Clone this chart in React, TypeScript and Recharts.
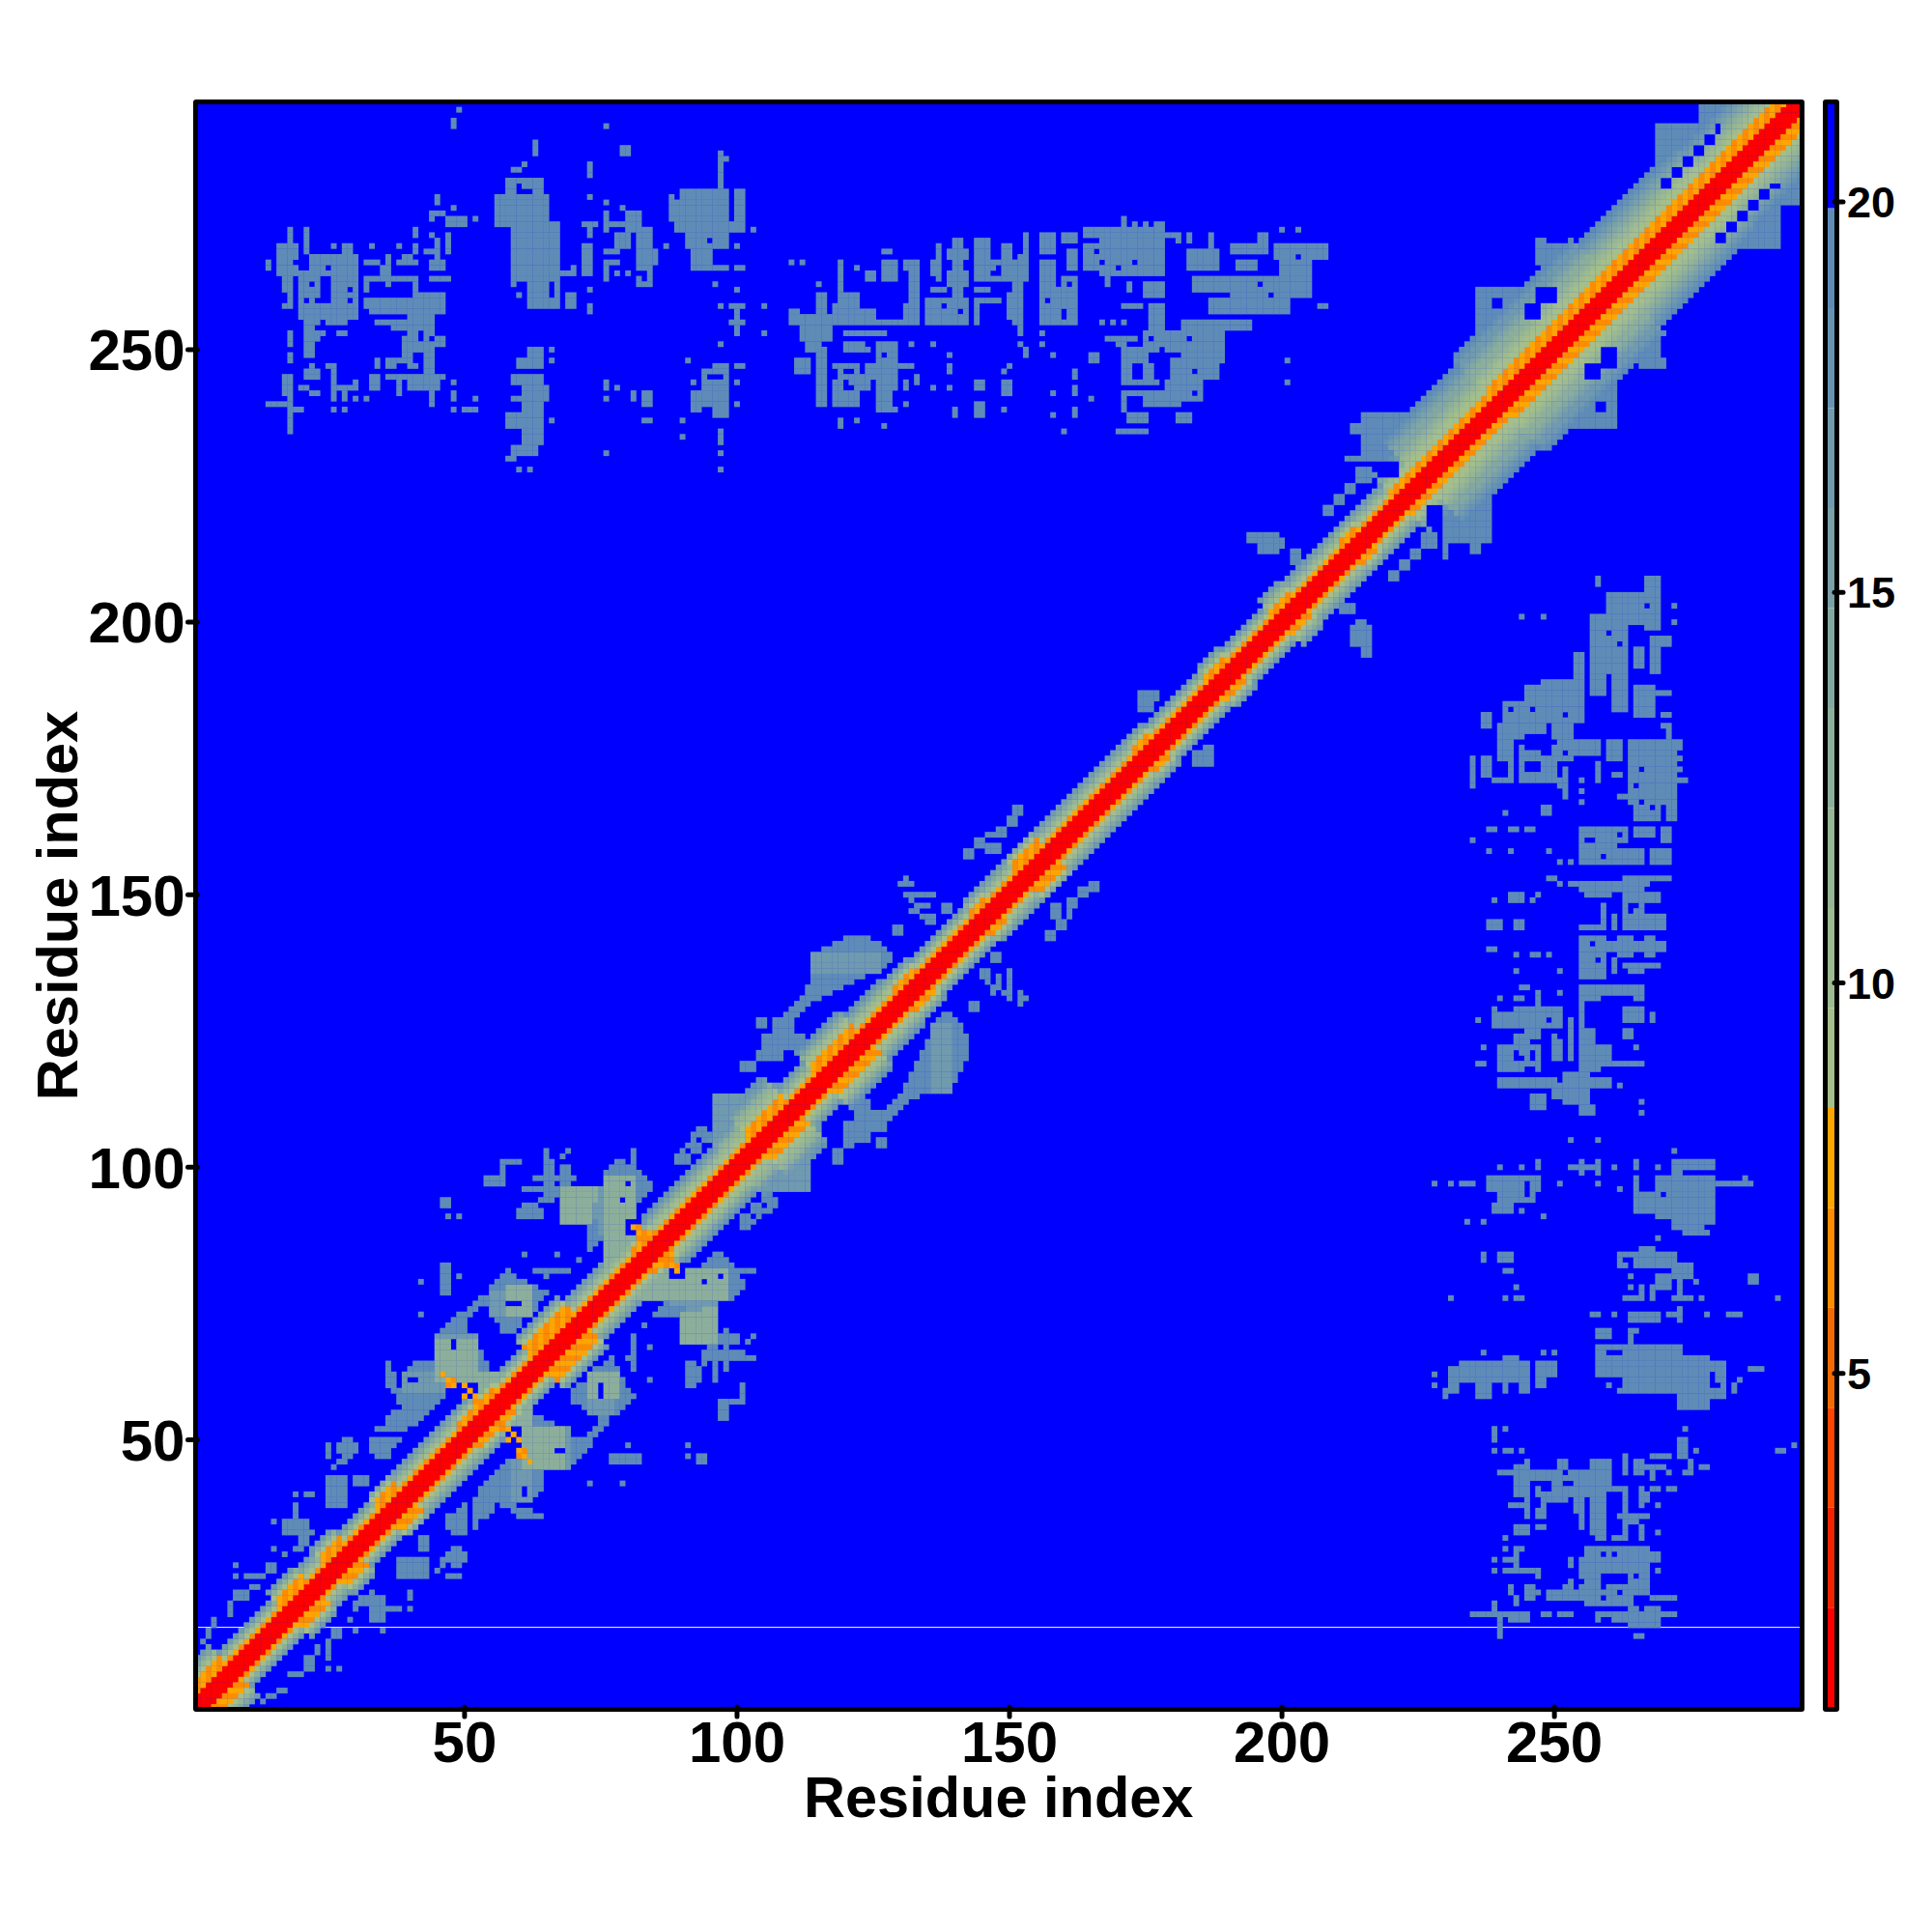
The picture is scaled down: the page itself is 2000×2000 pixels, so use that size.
import { ScatterChart, Scatter, XAxis, YAxis, CartesianGrid, ReferenceLine, BarChart, Bar } from 'recharts';

const FONT = '"Liberation Sans", Arial, sans-serif';
const CELL = 5.95;

const residueTicks = [50, 100, 150, 200, 250];
const scaleTicks = [5, 10, 15, 20];

// colour steps of the scale, low distance to high distance
const palette = ['#FF0000', '#F22400', '#FF4500', '#F56A00', '#FF8C00', '#FFA500', '#A5BF8B', '#9DBA90', '#95B595', '#8CAF9B', '#83A8A2', '#7AA1A8', '#709AAE', '#6693B3', '#5F8CB7', '#0000FF'];
const scaleSteps = [2, 1.28, 1.28, 1.28, 1.28, 1.28, 1.28, 1.28, 1.28, 1.28, 1.28, 1.28, 1.28, 1.28, 1.28, 1.33];

// along the diagonal: from, to, red half width, orange half width, outer half width
const bandProfile = [
  [1, 8, 2, 5, 9], [8, 18, 2, 3, 6], [18, 23, 2, 5, 8], [23, 26, 2, 3, 7], [26, 30, 2, 5, 8], [30, 36, 2, 3, 6],
  [36, 40, 2, 5, 7], [40, 51, 2, 3, 7], [51, 58, 2, 4, 7], [58, 64, 2, 3, 6], [64, 72, 2, 6, 9], [72, 83, 2, 3, 7],
  [83, 87, 2, 4, 7], [87, 100, 2, 3, 8], [100, 104, 2, 3, 10], [104, 111, 2, 5, 12], [111, 116, 2, 3, 7], [116, 124, 2, 5, 10], [124, 131, 2, 3, 8],
  [131, 135, 2, 4, 7], [135, 145, 2, 3, 6], [145, 148, 2, 4, 7], [148, 153, 2, 3, 7], [153, 158, 2, 5, 7], [158, 175, 2, 3, 7], [175, 178, 2, 4, 7],
  [178, 188, 2, 3, 6], [188, 192, 2, 4, 7], [192, 200, 2, 3, 6], [200, 204, 2, 4, 8], [204, 213, 2, 3, 7], [213, 216, 2, 4, 7],
  [216, 222, 2, 3, 7], [222, 226, 2, 4, 10], [226, 240, 2, 4, 15], [240, 262, 2, 5, 17], [262, 280, 2, 5, 15], [280, 296, 2, 5, 13],
];

// blocks away from the diagonal, as xFrom, xTo, yFrom, yTo (the map is symmetric)
const farBlocksLeft = [
  [18, 18, 270, 272], [21, 21, 268, 272], [16, 19, 264, 269], [14, 14, 265, 266], [17, 18, 261, 263], [18, 18, 258, 264], [17, 18, 258, 258],
  [20, 23, 260, 263], [20, 30, 256, 258], [26, 30, 258, 267], [28, 29, 267, 269], [22, 25, 265, 267], [19, 25, 264, 264], [20, 22, 259, 259],
  [21, 23, 255, 256], [21, 22, 249, 255], [21, 23, 252, 253], [18, 18, 251, 253], [18, 18, 248, 249], [26, 26, 269, 269], [33, 33, 269, 269], [38, 38, 269, 269],
  [32, 34, 266, 266], [36, 36, 262, 267], [35, 35, 263, 265], [32, 41, 263, 263], [32, 32, 261, 262], [38, 41, 266, 266], [41, 41, 268, 269],
  [41, 41, 271, 272], [39, 40, 267, 267], [44, 46, 265, 266], [43, 45, 268, 268], [44, 44, 271, 271], [47, 47, 268, 271], [45, 45, 267, 270],
  [44, 47, 263, 263], [41, 41, 258, 263], [42, 46, 260, 260], [32, 46, 258, 259], [33, 39, 257, 257], [40, 46, 257, 258], [40, 44, 253, 256],
  [34, 39, 255, 255], [37, 39, 254, 254], [39, 46, 251, 252], [39, 44, 249, 250], [36, 41, 247, 248], [43, 44, 244, 249], [36, 46, 245, 245],
  [40, 45, 243, 244], [38, 38, 242, 244], [44, 44, 240, 243], [34, 34, 247, 248], [33, 34, 243, 245], [21, 23, 245, 246], [22, 22, 247, 247],
  [25, 26, 247, 247], [26, 26, 241, 246], [27, 30, 243, 243], [30, 30, 244, 244], [28, 28, 241, 242], [20, 21, 243, 243], [22, 23, 242, 242],
  [17, 18, 242, 245], [18, 18, 235, 241], [14, 17, 240, 240], [18, 20, 239, 239], [25, 26, 255, 255], [27, 28, 255, 255], [24, 24, 253, 253], [27, 28, 253, 253],
  [26, 26, 239, 239], [28, 28, 239, 239], [30, 30, 241, 241], [32, 32, 241, 241], [48, 48, 244, 244], [48, 48, 241, 242], [50, 52, 239, 239], [48, 48, 239, 239], [52, 52, 241, 241],
  [45, 45, 277, 278], [44, 46, 275, 275], [44, 44, 274, 274], [47, 50, 273, 274], [48, 48, 276, 276], [52, 52, 274, 274], [48, 48, 291, 292], [49, 49, 294, 294],
];

const farBlocksCentre = [
  [58, 64, 278, 281], [56, 65, 273, 278], [61, 65, 272, 273], [59, 67, 263, 272], [62, 65, 259, 263], [62, 67, 258, 259], [67, 67, 259, 263], [68, 70, 264, 264],
  [70, 70, 265, 265], [66, 67, 272, 273], [72, 73, 264, 269], [72, 74, 273, 273], [73, 73, 271, 272], [73, 73, 282, 284], [73, 73, 278, 278], [73, 73, 257, 258], [73, 73, 261, 261],
  [63, 63, 286, 288], [59, 60, 283, 283], [61, 61, 284, 284], [79, 80, 286, 287], [76, 76, 291, 291], [59, 59, 262, 262], [60, 60, 260, 260], [69, 70, 258, 260],
  [76, 76, 272, 275], [80, 82, 272, 275], [76, 82, 273, 273], [78, 80, 269, 271], [82, 84, 262, 272], [85, 85, 266, 268], [76, 78, 268, 268], [76, 78, 266, 266], [76, 76, 263, 265], [78, 78, 264, 264], [80, 80, 264, 264], [76, 76, 277, 277], [79, 79, 276, 276],
  [90, 98, 274, 279], [88, 90, 274, 277], [89, 101, 272, 273], [91, 98, 269, 272], [92, 95, 265, 268], [96, 98, 265, 265], [97, 97, 279, 286], [98, 98, 285, 285], [100, 101, 274, 279], [88, 88, 278, 278], [103, 103, 272, 272],
  [87, 87, 269, 269], [100, 100, 269, 269], [100, 101, 265, 265], [110, 110, 266, 266],
  [62, 64, 248, 250], [60, 64, 247, 248], [59, 64, 244, 245], [61, 64, 233, 244], [59, 60, 241, 241], [58, 60, 236, 238], [65, 65, 241, 243], [62, 63, 232, 232], [59, 63, 231, 232], [58, 59, 230, 230], [60, 60, 228, 228], [62, 62, 228, 228], [66, 66, 250, 250], [66, 66, 248, 248], [66, 66, 237, 237],
  [76, 76, 243, 244], [78, 78, 243, 243], [76, 76, 241, 241], [81, 81, 241, 242], [83, 84, 240, 242], [83, 84, 237, 237], [76, 76, 231, 231],
  [94, 98, 240, 246], [96, 98, 247, 247], [96, 98, 238, 239], [92, 93, 239, 242], [97, 97, 233, 235], [100, 100, 253, 258], [99, 101, 258, 258], [99, 101, 255, 255], [97, 97, 251, 251], [97, 97, 231, 231], [97, 97, 228, 228],
  [91, 91, 248, 248], [100, 101, 247, 247], [90, 90, 237, 237], [90, 90, 234, 234], [92, 92, 244, 244], [100, 100, 244, 244], [100, 100, 240, 240], [97, 97, 258, 258], [96, 96, 262, 262], [100, 100, 261, 261], [105, 105, 258, 258], [105, 105, 253, 253],
];

const farBlocksRight = [
  [112, 117, 252, 256], [115, 116, 256, 260], [110, 111, 255, 257], [118, 122, 255, 258], [119, 119, 258, 266], [123, 133, 255, 255], [120, 122, 259, 260], [131, 133, 256, 258], [132, 133, 259, 266], [131, 133, 265, 266],
  [127, 129, 263, 266], [127, 128, 268, 268], [124, 125, 263, 264], [113, 115, 250, 251], [115, 116, 240, 250], [111, 113, 246, 248], [118, 122, 240, 247], [123, 124, 243, 245], [126, 129, 239, 251], [124, 126, 245, 247],
  [120, 127, 253, 253], [120, 124, 250, 251], [130, 132, 247, 247], [133, 133, 244, 245], [131, 131, 243, 244], [132, 132, 251, 251], [136, 136, 251, 251], [139, 139, 249, 249], [139, 139, 246, 247], [136, 136, 243, 243],
  [139, 139, 243, 243], [119, 119, 236, 237], [122, 122, 237, 237], [127, 127, 236, 236], [131, 131, 240, 240], [115, 115, 262, 262], [112, 112, 266, 266], [122, 122, 265, 265], [123, 125, 256, 257],
  [135, 142, 255, 258], [135, 142, 259, 259], [136, 138, 261, 261], [140, 141, 260, 261], [137, 137, 263, 269], [136, 136, 264, 266], [139, 142, 262, 264], [140, 141, 265, 270], [139, 142, 267, 268], [144, 153, 263, 266], [144, 146, 266, 270],
  [149, 150, 266, 269], [152, 153, 266, 267], [153, 153, 268, 271], [156, 158, 268, 271], [160, 162, 270, 271], [156, 158, 255, 266], [159, 162, 255, 261], [160, 162, 262, 263], [161, 162, 265, 268], [151, 152, 255, 262], [150, 150, 256, 260], [144, 146, 261, 261],
  [144, 146, 259, 259], [144, 144, 255, 258], [147, 148, 259, 259], [152, 152, 253, 254], [152, 152, 251, 251], [153, 153, 250, 250], [156, 156, 253, 253], [156, 156, 251, 251], [153, 153, 249, 249], [158, 158, 249, 249],
  [167, 178, 264, 272], [164, 167, 265, 269], [171, 171, 273, 274], [173, 173, 273, 273], [175, 175, 273, 273], [177, 178, 272, 273], [178, 181, 271, 271], [181, 181, 270, 270], [164, 166, 271, 272], [168, 168, 262, 264], [183, 183, 270, 271], [187, 187, 271, 271],
  [191, 205, 260, 263], [187, 201, 257, 259], [200, 205, 260, 267], [199, 208, 267, 269], [191, 197, 268, 269], [192, 195, 265, 266], [183, 188, 265, 268], [187, 187, 269, 271], [184, 190, 261, 263], [200, 200, 272, 272], [203, 203, 272, 272], [196, 197, 270, 271], [207, 208, 258, 258],
  [175, 189, 250, 253], [182, 189, 248, 250], [180, 188, 245, 248], [179, 185, 241, 244], [171, 175, 248, 250], [168, 173, 252, 252], [170, 171, 251, 251], [176, 178, 254, 258], [182, 187, 254, 255], [188, 194, 254, 255], [171, 177, 244, 244], [171, 180, 242, 242], [171, 171, 239, 241],
  [172, 175, 237, 238], [170, 175, 235, 235], [181, 183, 237, 238], [175, 178, 240, 241], [179, 181, 240, 240], [171, 172, 245, 248], [175, 176, 245, 247], [165, 166, 248, 249], [160, 160, 235, 235], [201, 201, 248, 248], [201, 201, 244, 244], [175, 178, 260, 262], [172, 172, 261, 262],
  [171, 174, 258, 258], [167, 167, 255, 255], [169, 169, 255, 255], [171, 171, 255, 255], [162, 162, 245, 246], [162, 162, 242, 243], [162, 162, 238, 239], [158, 158, 242, 242], [158, 158, 238, 238], [165, 165, 241, 241], [149, 150, 242, 244], [144, 145, 243, 244], [144, 145, 238, 240], [140, 140, 238, 239], [149, 149, 239, 239], [150, 150, 247, 247], [149, 149, 246, 246],
];

// patches close to the diagonal, outermost shade
const nearOuter = [
  // residues 1 to 60
  [14, 15, 26, 27], [10, 13, 25, 25], [8, 8, 27, 27], [8, 8, 25, 25], [11, 12, 23, 23], [8, 10, 21, 22], [7, 7, 18, 20], [4, 4, 16, 17], [3, 3, 14, 15], [2, 2, 13, 13],
  [19, 19, 40, 40], [21, 22, 40, 40], [19, 19, 36, 38], [15, 15, 35, 35], [17, 19, 33, 35], [18, 22, 33, 33], [20, 21, 31, 35], [19, 20, 30, 30], [15, 15, 30, 30], [17, 17, 29, 29],
  [25, 28, 38, 43], [30, 32, 42, 43], [28, 29, 50, 50], [27, 30, 48, 49], [28, 29, 47, 47], [27, 28, 46, 46], [25, 25, 47, 49], [26, 26, 45, 45], [33, 38, 50, 50], [33, 37, 49, 49], [33, 36, 48, 48], [34, 36, 47, 47],
  [36, 36, 60, 64], [37, 37, 59, 62], [38, 39, 57, 59], [34, 39, 52, 52], [36, 41, 53, 53], [36, 42, 54, 54], [37, 43, 55, 55], [39, 44, 56, 56], [40, 45, 57, 57], [40, 46, 58, 58], [39, 46, 59, 59], [39, 47, 60, 60], [39, 46, 61, 62], [40, 45, 63, 63], [41, 44, 64, 64],
  [45, 54, 64, 64], [46, 54, 63, 63], [45, 53, 65, 66], [45, 52, 67, 68], [46, 52, 69, 69], [46, 50, 70, 70], [47, 50, 71, 71], [48, 50, 72, 72], [49, 51, 73, 73], [51, 52, 74, 74], [52, 53, 75, 75], [42, 42, 79, 79], [42, 42, 73, 73],
  // residues 55 to 105
  [58, 58, 81, 81], [57, 59, 80, 80], [56, 61, 79, 79], [55, 63, 78, 78], [55, 65, 77, 77], [53, 64, 76, 76], [54, 63, 75, 75], [55, 63, 74, 74], [55, 62, 73, 73], [56, 60, 72, 72], [57, 60, 71, 71], [57, 59, 70, 70],
  [63, 68, 81, 81], [65, 65, 80, 80], [69, 69, 81, 81], [46, 47, 77, 82], [49, 49, 80, 80], [61, 61, 84, 84], [67, 67, 84, 84], [71, 71, 83, 83], [46, 47, 93, 94], [47, 47, 91, 91], [49, 49, 91, 91],
  [57, 60, 101, 101], [57, 57, 99, 100], [54, 57, 97, 98], [63, 70, 98, 98], [65, 66, 94, 101], [61, 70, 96, 96], [68, 68, 95, 99], [64, 64, 94, 94], [60, 64, 91, 92], [61, 63, 93, 93],
  [96, 97, 84, 84], [95, 98, 83, 83], [94, 99, 82, 82], [92, 103, 81, 81], [92, 100, 80, 80], [88, 101, 78, 79], [88, 100, 77, 77], [88, 99, 76, 76], [87, 96, 75, 75], [86, 95, 74, 74], [85, 96, 73, 73], [90, 95, 72, 72], [91, 94, 71, 71], [91, 93, 70, 70], [91, 91, 68, 69],
  [97, 100, 69, 69], [98, 98, 63, 70], [100, 100, 68, 69], [97, 100, 65, 65], [95, 96, 65, 67], [102, 103, 65, 65], [102, 102, 68, 68], [103, 103, 69, 69], [94, 94, 64, 64], [96, 96, 61, 64], [96, 96, 68, 70], [84, 84, 67, 67], [83, 83, 71, 71], [84, 84, 61, 61], [101, 101, 60, 60],
  [101, 102, 89, 89], [103, 103, 90, 90], [104, 104, 91, 91], [105, 106, 92, 92], [106, 107, 93, 94],
  // residues 90 to 165
  [90, 91, 101, 102], [92, 93, 103, 104], [94, 95, 105, 106], [96, 97, 107, 108], [98, 99, 109, 110],
  [101, 103, 118, 119], [104, 108, 120, 121], [105, 112, 122, 124], [107, 110, 125, 127], [104, 105, 126, 127],
  [109, 111, 128, 128], [110, 112, 129, 129], [111, 113, 130, 130], [112, 115, 131, 131], [113, 117, 132, 132], [113, 119, 133, 133], [114, 121, 134, 134], [114, 123, 135, 135], [114, 125, 136, 136], [114, 127, 137, 137], [115, 128, 138, 139], [116, 127, 140, 140], [118, 126, 141, 141], [120, 124, 142, 142],
  [131, 131, 153, 153], [130, 132, 152, 152], [131, 136, 150, 150], [132, 132, 149, 149], [133, 135, 148, 148], [132, 133, 147, 147], [134, 136, 146, 146], [135, 136, 145, 145], [129, 130, 143, 144], [138, 139, 147, 148],
  [142, 143, 157, 158], [144, 145, 159, 160], [146, 148, 158, 159], [148, 149, 161, 162], [150, 151, 163, 164], [151, 152, 165, 166], [146, 147, 161, 161],
  // residues 170 to 285
  [174, 176, 184, 187], [176, 177, 186, 187], [194, 197, 215, 216], [196, 199, 213, 216], [198, 200, 214, 215], [211, 213, 202, 203],
  [215, 222, 230, 238], [212, 215, 230, 230], [213, 215, 235, 236], [208, 209, 220, 221], [210, 211, 222, 223], [212, 213, 224, 225], [214, 216, 226, 228],
  [236, 250, 249, 261], [247, 248, 266, 270], [248, 256, 261, 269], [269, 278, 280, 291], [277, 284, 292, 295],
];
// the same patches where they are lighter, towards the middle
const nearMiddle = [[88, 96, 75, 75], [91, 94, 72, 74], [39, 46, 59, 62], [45, 52, 66, 69], [55, 60, 73, 77], [114, 126, 136, 139], [104, 108, 112, 115], [96, 104, 105, 113]];
const nearLight = [[88, 98, 76, 81], [58, 62, 73, 78], [45, 52, 61, 68], [53, 59, 58, 62], [82, 87, 76, 82], [94, 96, 73, 74], [68, 73, 90, 96]];

// darker arms of the two crossings on the diagonal: x, y
const armCellsOrange = [
  [46, 62], [47, 61], [48, 61], [47, 60], [48, 60], [50, 60], [50, 58], [51, 59], [52, 58], [52, 57], [53, 57], [53, 56], [54, 56],
  [81, 89], [82, 89], [82, 88], [83, 88], [82, 87], [83, 87], [84, 87], [83, 86], [84, 86],
];

// gaps inside the blocks: xFrom, xTo, yFrom, yTo
const gaps = [
  [29, 29, 261, 261], [29, 29, 259, 259], [25, 25, 265, 265], [21, 21, 259, 259], [19, 19, 266, 266], [22, 22, 262, 262], [42, 42, 252, 253], [44, 44, 252, 252], [38, 39, 246, 247], [41, 42, 248, 249], [60, 60, 279, 280], [61, 62, 279, 279],
  [95, 97, 245, 245], [95, 95, 270, 270], [92, 92, 263, 263], [97, 97, 268, 268], [173, 173, 266, 266], [167, 167, 266, 266], [170, 170, 265, 265], [166, 166, 268, 268], [82, 83, 264, 264], [83, 83, 263, 263], [78, 79, 272, 272],
  [148, 148, 264, 265], [147, 147, 264, 264], [120, 120, 243, 244], [121, 121, 243, 243], [118, 118, 245, 246], [120, 121, 246, 246], [124, 124, 251, 251], [127, 127, 249, 249], [129, 129, 240, 242], [157, 157, 259, 259], [160, 160, 256, 257], [161, 161, 262, 262],
  [138, 138, 258, 258], [141, 141, 257, 257], [196, 196, 262, 262], [198, 198, 260, 260], [203, 203, 267, 267], [184, 184, 246, 246], [184, 184, 242, 242], [176, 176, 252, 252], [178, 178, 249, 250], [173, 174, 247, 247], [183, 183, 252, 252],
  [270, 271, 280, 281], [272, 273, 282, 283], [274, 275, 284, 285], [276, 277, 286, 287], [278, 279, 288, 289], [280, 280, 290, 291], [245, 247, 256, 258], [239, 240, 258, 259], [247, 250, 259, 261], [218, 221, 227, 229],
  [49, 49, 60, 60], [50, 50, 59, 59], [51, 51, 60, 60], [51, 51, 58, 58], [52, 52, 59, 59], [49, 49, 58, 58], [88, 90, 80, 81], [94, 94, 79, 79], [97, 97, 80, 80], [58, 60, 75, 75], [48, 48, 67, 68], [40, 41, 61, 61],
];

const buildCells = () => {
  const grid = new Map<string, number>();
  const put = (x: number, y: number, level: number) => {
    if (x < 1 || y < 1 || x > 295 || y > 295) return;
    for (const key of [`${x},${y}`, `${y},${x}`]) {
      const old = grid.get(key);
      if (old === undefined || level < old) grid.set(key, level);
    }
  };
  const fill = (blocks: number[][], level: number) => {
    blocks.forEach(([x1, x2, y1, y2]) => {
      for (let x = x1; x <= x2; x++) for (let y = y1; y <= y2; y++) put(x, y, level);
    });
  };
  bandProfile.forEach(([from, to, red, orange, outer]) => {
    for (let x = 1; x <= 295; x++) {
      for (let d = 0; d <= outer; d++) {
        const mid = x + d / 2;
        if (mid < from || mid >= to) continue;
        let level = 6 + Math.floor(((d - orange - 1) / (outer - orange)) * 9);
        if (d <= red) level = 0;
        else if (d <= orange) level = x % 2 ? 4 : 5;
        put(x, x + d, level);
      }
    }
  });
  fill(farBlocksLeft, 14);
  fill(farBlocksCentre, 14);
  fill(farBlocksRight, 14);
  fill(nearOuter, 14);
  fill(nearMiddle, 12);
  fill(nearLight, 9);
  gaps.forEach(([x1, x2, y1, y2]) => {
    for (let x = x1; x <= x2; x++) {
      for (let y = y1; y <= y2; y++) {
        grid.delete(`${x},${y}`);
        grid.delete(`${y},${x}`);
      }
    }
  });
  armCellsOrange.forEach(([x, y]) => put(x, y, (x + y) % 2 ? 4 : 5));

  const byLevel: { x: number; y: number }[][] = palette.map(() => []);
  grid.forEach((level, key) => {
    const [x, y] = key.split(',').map(Number);
    byLevel[level].push({ x, y });
  });
  return byLevel;
};

const cellsByLevel = buildCells();

const scaleRow: Record<string, number | string> = { name: 'scale' };
scaleSteps.forEach((step, i) => {
  scaleRow[`s${i}`] = step;
});

const HeatCell = (props: any) => (
  <rect x={props.cx - CELL / 2} y={props.cy - CELL / 2} width={CELL} height={CELL} fill={props.fill} />
);

const tickLine = { stroke: '#000', strokeWidth: 5, strokeLinecap: 'round' as const };
const bigTick = { fontSize: 60, fontWeight: 700, fontFamily: FONT, fill: '#000' };
const noLabel = () => '';
const titleStyle = { fontSize: 59.5, fontWeight: 700, fontFamily: FONT, fill: '#000' };

export default function App() {
  return (
    <div style={{ position: 'absolute', left: 0, top: 0, width: 2000, height: 2000, background: '#fff' }}>
      <div style={{ position: 'absolute', left: 0, top: 0 }}>
        <ScatterChart width={1880} height={2000} margin={{ top: 48, right: 0, bottom: 0, left: 0 }}>
          <CartesianGrid horizontal={false} vertical={false} fill="#0000FF" xAxisId="bottom" yAxisId="left" />
          <XAxis xAxisId="bottom" type="number" dataKey="x" domain={[1, 295]} ticks={residueTicks} height={233} tick={bigTick} tickSize={10} tickMargin={4} tickLine={tickLine} axisLine={false} interval={0}
            label={{ value: 'Residue index', position: 'insideBottom', offset: 119, style: titleStyle }} />
          <XAxis xAxisId="top" orientation="top" type="number" domain={[1, 295]} ticks={residueTicks} height={60} tickSize={10} tickFormatter={noLabel} tickLine={tickLine} axisLine={false} interval={0} />
          <YAxis yAxisId="left" type="number" dataKey="y" domain={[1, 295]} ticks={residueTicks} width={204.5} tick={bigTick} tickSize={10} tickMargin={3} tickLine={tickLine} axisLine={false} interval={0}
            label={{ value: 'Residue index', angle: -90, position: 'insideLeft', offset: 59, style: { ...titleStyle, textAnchor: 'middle' } }} />
          <YAxis yAxisId="right" orientation="right" type="number" domain={[1, 295]} ticks={residueTicks} width={17} tickSize={10} tickFormatter={noLabel} tickLine={tickLine} axisLine={false} interval={0} />
          {cellsByLevel.map((cells, level) => (
            cells.length > 0 && <Scatter key={level} xAxisId="bottom" yAxisId="left" data={cells} fill={palette[level]} shape={HeatCell} isAnimationActive={false} />
          ))}
          <ReferenceLine xAxisId="bottom" yAxisId="left" y={15.6} stroke="#FFFFFF" strokeWidth={1} />
        </ScatterChart>
      </div>
      <div style={{ position: 'absolute', left: 199.5, top: 103, width: 1658.5, height: 1659, border: '5px solid #000', borderRadius: 3 }} />
      <div style={{ position: 'absolute', left: 1880, top: 0 }}>
        <BarChart width={120} height={2000} data={[scaleRow]} margin={{ top: 108, right: 0, bottom: 233, left: 12 }} barCategoryGap={0}>
          <XAxis dataKey="name" hide />
          <YAxis orientation="right" type="number" domain={[0.73, 21.25]} allowDataOverflow ticks={scaleTicks} width={101} tick={{ fontSize: 45, fontWeight: 700, fontFamily: FONT, fill: '#000' }} tickSize={9} tickMargin={4} tickLine={tickLine} axisLine={false} interval={0} />
          {scaleSteps.map((_, i) => (
            <Bar key={i} dataKey={`s${i}`} stackId="scale" fill={palette[i]} isAnimationActive={false} />
          ))}
        </BarChart>
      </div>
      <div style={{ position: 'absolute', left: 1887, top: 103, width: 7, height: 1659, border: '5px solid #000', borderRadius: 3 }} />
    </div>
  );
}
